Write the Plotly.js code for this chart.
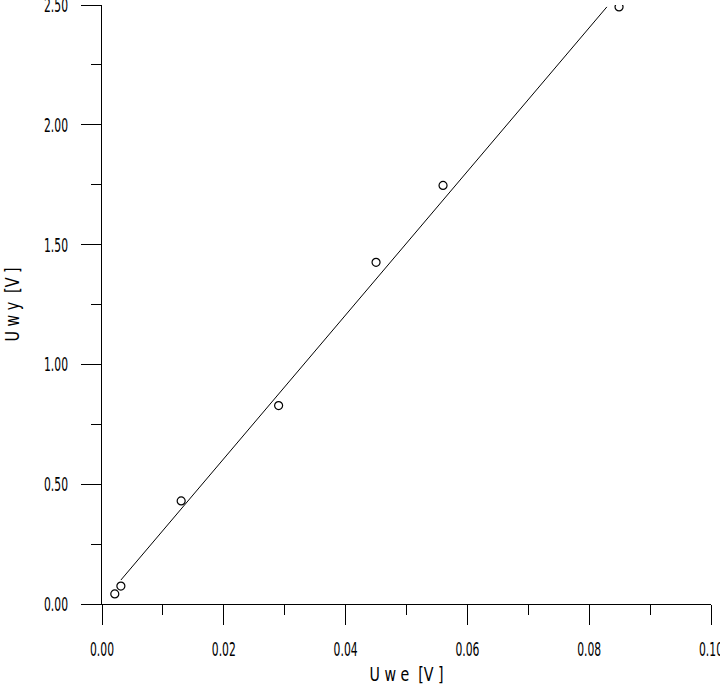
<!DOCTYPE html>
<html>
<head>
<meta charset="utf-8">
<script src="https://cdn.plot.ly/plotly-3.0.1.min.js"></script>
<style>
html,body{margin:0;padding:0;background:#fff;}
#chart{width:720px;height:686px;}
</style>
</head>
<body>
<div id="chart"></div>
<script>
// measured points
const uwe = [0.0021, 0.0031, 0.0130, 0.0290, 0.0450, 0.0560, 0.0849];
const uwy = [0.042, 0.075, 0.430, 0.828, 1.426, 1.747, 2.492];
// fitted line end points
const fitX = [0.0031, 0.0829];
const fitY = [0.100, 2.492];
// ticks
const xTickVals = [0, 0.02, 0.04, 0.06, 0.08, 0.10];
const xTickText = ['0.00', '0.02', '0.04', '0.06', '0.08', '0.10'];
const yTickVals = [0, 0.5, 1.0, 1.5, 2.0, 2.5];
const yTickText = ['0.00', '0.50', '1.00', '1.50', '2.00', '2.50'];

const FONT = '"DejaVu Sans Condensed", "DejaVu Sans", sans-serif';

const traces = [
  {x: fitX, y: fitY, type: 'scatter', mode: 'lines',
   line: {color: '#000', width: 1}, hoverinfo: 'skip', showlegend: false},
  {x: uwe, y: uwy, type: 'scatter', mode: 'markers',
   marker: {symbol: 'circle-open', size: 8, color: '#000', line: {color: '#000', width: 1.2}},
   showlegend: false}
];

const layout = {
  width: 720, height: 686,
  margin: {l: 102, r: 9, t: 5, b: 82},
  paper_bgcolor: '#fff', plot_bgcolor: '#fff',
  font: {family: FONT, size: 20, color: '#000'},
  showlegend: false,
  xaxis: {
    range: [0, 0.1], showgrid: false, zeroline: false,
    showline: true, linecolor: '#000', linewidth: 1,
    ticks: 'outside', ticklen: 20, tickwidth: 1, tickcolor: '#000',
    tickvals: xTickVals, ticktext: xTickText,
    ticklabelstandoff: 7, ticklabeloverflow: 'allow',
    minor: {dtick: 0.01, ticks: 'outside', ticklen: 10, tickwidth: 1, tickcolor: '#000', showgrid: false},
    title: {text: 'U w e  [V ]', standoff: 7, font: {family: FONT, size: 20, color: '#000'}},
    fixedrange: true
  },
  yaxis: {
    range: [0, 2.5], showgrid: false, zeroline: false,
    showline: true, linecolor: '#000', linewidth: 1,
    ticks: 'outside', ticklen: 20, tickwidth: 1, tickcolor: '#000',
    tickvals: yTickVals, ticktext: yTickText,
    ticklabelstandoff: 9, ticklabeloverflow: 'allow',
    minor: {dtick: 0.25, ticks: 'outside', ticklen: 10, tickwidth: 1, tickcolor: '#000', showgrid: false},
    title: {text: 'U w y  [V ]', standoff: 22, font: {family: FONT, size: 20, color: '#000'}},
    fixedrange: true
  }
};

function narrow() {
  // condense glyphs horizontally to mimic the tall narrow plotter font
  document.querySelectorAll('#chart .xtick text, #chart .ytick text').forEach(t => {
    t.setAttribute('textLength', 24);
    t.setAttribute('lengthAdjust', 'spacingAndGlyphs');
  });
  document.querySelectorAll('#chart .g-xtitle text, #chart .g-ytitle text').forEach(t => {
    t.setAttribute('textLength', 74);
    t.setAttribute('lengthAdjust', 'spacingAndGlyphs');
  });
}

Plotly.newPlot('chart', traces, layout, {displayModeBar: false, staticPlot: true}).then(narrow);
</script>
</body>
</html>
